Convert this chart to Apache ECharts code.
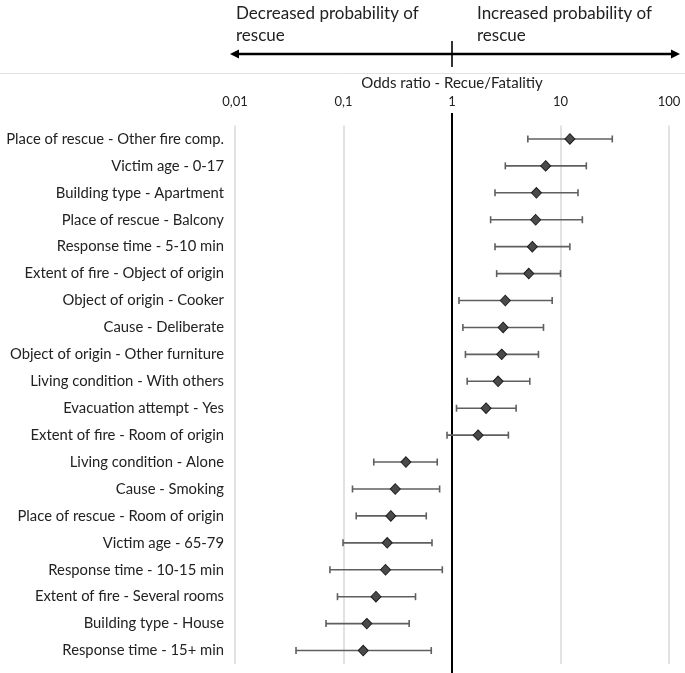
<!DOCTYPE html>
<html><head><meta charset="utf-8">
<script src="https://cdn.jsdelivr.net/npm/echarts@6/dist/echarts.min.js"></script>
<style>html,body{margin:0;padding:0;background:#fff}#c{width:685px;height:673px}</style>
</head><body><div id="c"></div>
<script>
const categories = [
  'Place of rescue - Other fire comp.','Victim age - 0-17','Building type - Apartment','Place of rescue - Balcony',
  'Response time - 5-10 min','Extent of fire - Object of origin','Object of origin - Cooker','Cause - Deliberate',
  'Object of origin - Other furniture','Living condition - With others','Evacuation attempt - Yes','Extent of fire - Room of origin',
  'Living condition - Alone','Cause - Smoking','Place of rescue - Room of origin','Victim age - 65-79',
  'Response time - 10-15 min','Extent of fire - Several rooms','Building type - House','Response time - 15+ min'
];
const oddsRatio = [12.2, 7.3, 6.0, 5.9, 5.5, 5.1, 3.1, 2.96, 2.87, 2.66, 2.06, 1.74, 0.376, 0.30, 0.273, 0.253, 0.244, 0.199, 0.164, 0.152];
const ciLow  = [5.0, 3.1, 2.49, 2.27, 2.49, 2.58, 1.16, 1.26, 1.33, 1.38, 1.10, 0.90, 0.190, 0.121, 0.131, 0.099, 0.075, 0.088, 0.069, 0.0365];
const ciHigh = [30.0, 17.3, 14.5, 15.9, 12.2, 10.0, 8.38, 6.97, 6.26, 5.21, 3.90, 3.31, 0.731, 0.769, 0.579, 0.654, 0.814, 0.461, 0.403, 0.644];
const tickLabels = {0.01:'0,01', 0.1:'0,1', 1:'1', 10:'10', 100:'100'};
const axisTitle = 'Odds ratio - Recue/Fatalitiy';
const leftNote = 'Decreased probability of\nrescue';
const rightNote = 'Increased probability of\nrescue';

const FONT = 'Lato';
const chart = echarts.init(document.getElementById('c'), null, {renderer:'canvas'});
const errData = categories.map((c,i)=>[ciLow[i], ciHigh[i], i]);
const ptData = categories.map((c,i)=>[oddsRatio[i], i]);

chart.setOption({
  animation:false,
  grid:{left:235, right:16, top:125.5, bottom:9, containLabel:false},
  xAxis:{type:'log', logBase:10, min:0.01, max:100, position:'top',
    name:axisTitle, nameLocation:'middle', nameGap:29,
    nameTextStyle:{fontFamily:FONT, fontSize:15, color:'#222'},
    axisLine:{show:false}, axisTick:{show:false},
    axisLabel:{margin:17, fontFamily:FONT, fontSize:13, color:'#222', formatter:v=>tickLabels[+v.toPrecision(3)] ?? v},
    splitLine:{show:true, lineStyle:{color:'#d9d9d9', width:1.5}}
  },
  yAxis:{type:'category', data:categories, inverse:true,
    axisLine:{show:false}, axisTick:{show:false}, splitLine:{show:false},
    axisLabel:{margin:11, fontFamily:FONT, fontSize:14.8, color:'#222'}
  },
  series:[
    {type:'custom', data:errData, encode:{x:[0,1], y:2}, z:2,
      renderItem:function(params, api){
        const y = api.value(2);
        const p1 = api.coord([api.value(0), y]);
        const p2 = api.coord([api.value(1), y]);
        const h = 3.5;
        const st = {stroke:'#5f5f5f', lineWidth:1.6};
        return {type:'group', children:[
          {type:'line', shape:{x1:p1[0], y1:p1[1], x2:p2[0], y2:p2[1]}, style:st},
          {type:'line', shape:{x1:p1[0], y1:p1[1]-h, x2:p1[0], y2:p1[1]+h}, style:st},
          {type:'line', shape:{x1:p2[0], y1:p2[1]-h, x2:p2[0], y2:p2[1]+h}, style:st}
        ]};
      }
    },
    {type:'scatter', data:ptData, symbol:'diamond', symbolSize:[10,10.5], z:3,
      itemStyle:{color:'#4a4a4a', borderColor:'#1e1e1e', borderWidth:1, opacity:1}
    }
  ]
});

function drawOverlay(){
  const x1 = chart.convertToPixel({xAxisIndex:0}, 1);
  const x001 = chart.convertToPixel({xAxisIndex:0}, 0.01);
  const x100 = chart.convertToPixel({xAxisIndex:0}, 100);
  const ay = 54;
  const aL = x001 - 5, aR = x100 + 11;
  chart.setOption({graphic:[
    {type:'line', shape:{x1:0, y1:73.5, x2:685, y2:73.5}, style:{stroke:'#e3e3e3', lineWidth:1}},
    {type:'line', shape:{x1:aL+8, y1:ay, x2:aR-8, y2:ay}, style:{stroke:'#000', lineWidth:2.5}},
    {type:'polygon', shape:{points:[[aL,ay],[aL+9,ay-4.5],[aL+9,ay+4.5]]}, style:{fill:'#000'}},
    {type:'polygon', shape:{points:[[aR,ay],[aR-9,ay-4.5],[aR-9,ay+4.5]]}, style:{fill:'#000'}},
    {type:'line', shape:{x1:x1, y1:41, x2:x1, y2:67}, style:{stroke:'#000', lineWidth:1.6}},
    {type:'line', shape:{x1:x1, y1:113, x2:x1, y2:673}, style:{stroke:'#000', lineWidth:2}, z:1},
    {type:'text', left:x001+1, top:3, style:{text:leftNote, font:'17px '+FONT, fill:'#222', lineHeight:22}},
    {type:'text', left:x1+25, top:3, style:{text:rightNote, font:'17px '+FONT, fill:'#222', lineHeight:22}}
  ]});
}
drawOverlay();
</script></body></html>
